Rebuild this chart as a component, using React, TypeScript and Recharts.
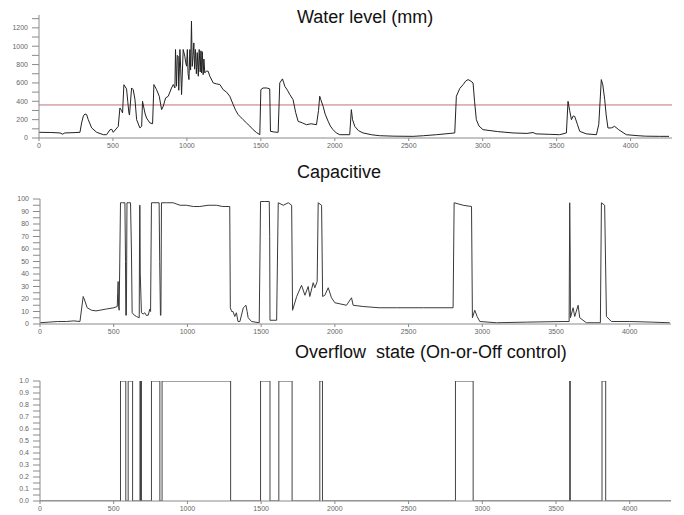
import { LineChart, Line, XAxis, YAxis, ReferenceLine } from 'recharts';

// time ticks shared by the three panels
const xTicks = [0, 500, 1000, 1500, 2000, 2500, 3000, 3500, 4000];
const levelTicks = [0, 100, 200, 300, 400, 500, 600, 700, 800, 900, 1000, 1100, 1200, 1300];
const capTicks = [0, 5, 10, 15, 20, 25, 30, 35, 40, 45, 50, 55, 60, 65, 70, 75, 80, 85, 90, 95, 100];
const stateTicks = [0, 0.05, 0.1, 0.15, 0.2, 0.25, 0.3, 0.35, 0.4, 0.45, 0.5, 0.55, 0.6, 0.65, 0.7, 0.75, 0.8, 0.85, 0.9, 0.95, 1];

const threshold = 360;

// [time, water level mm]
const waterLevel: [number, number][] = [
    [0, 62], [80, 60], [142, 55], [160, 42], [175, 55], [230, 58], [277, 62], [288, 164], [300, 240], [311, 262],
    [322, 255], [333, 200], [356, 110], [390, 62], [435, 36], [457, 36], [480, 90], [492, 95], [502, 62], [536, 127],
    [547, 327], [558, 300], [565, 273], [574, 580], [592, 535], [600, 400], [608, 273], [612, 250], [626, 545], [637, 527],
    [649, 418], [660, 200], [682, 110], [694, 127], [700, 400], [716, 273], [727, 218], [750, 164], [768, 156], [777, 582],
    [795, 527], [813, 455], [829, 309], [840, 345], [856, 436], [874, 455], [896, 545], [908, 582], [919, 545], [923, 964],
    [930, 564], [935, 900], [941, 891], [945, 520], [953, 964], [958, 760], [964, 473], [975, 964], [986, 891], [992, 820],
    [998, 782], [1003, 964], [1008, 700], [1014, 636], [1020, 964], [1025, 740], [1031, 1273], [1036, 780], [1042, 900],
    [1047, 1036], [1052, 750], [1058, 964], [1064, 700], [1070, 930], [1077, 673], [1083, 964], [1090, 720], [1095, 950],
    [1099, 709], [1104, 940], [1110, 690], [1115, 860], [1121, 709], [1132, 730], [1144, 727], [1155, 673], [1178, 600],
    [1200, 590], [1223, 582], [1245, 527], [1268, 500], [1290, 455], [1313, 364], [1330, 300], [1347, 255], [1358, 236],
    [1380, 200], [1403, 164], [1425, 130], [1448, 91], [1470, 60], [1493, 36], [1500, 527], [1515, 545], [1540, 545],
    [1560, 535], [1565, 73], [1590, 65], [1617, 62], [1628, 600], [1646, 644], [1655, 600], [1662, 564], [1680, 520],
    [1696, 473], [1718, 418], [1735, 280], [1752, 182], [1780, 165], [1808, 145], [1840, 155], [1876, 145], [1890, 300],
    [1898, 455], [1905, 420], [1921, 345], [1935, 260], [1955, 182], [1970, 130], [1988, 91], [2010, 55], [2034, 36],
    [2101, 36], [2112, 309], [2120, 200], [2135, 127], [2160, 80], [2191, 55], [2250, 35], [2304, 25], [2400, 20],
    [2530, 18], [2600, 25], [2688, 36], [2780, 50], [2811, 55], [2822, 455], [2845, 540], [2868, 582], [2885, 620],
    [2901, 636], [2915, 625], [2935, 600], [2945, 400], [2957, 200], [2975, 130], [3002, 91], [3100, 70], [3205, 55],
    [3300, 50], [3340, 60], [3360, 45], [3450, 40], [3520, 36], [3566, 55], [3577, 400], [3588, 300], [3600, 200],
    [3612, 240], [3622, 236], [3640, 150], [3656, 73], [3700, 45], [3769, 36], [3785, 150], [3802, 636], [3812, 580],
    [3825, 418], [3835, 250], [3847, 109], [3870, 110], [3892, 127], [3920, 90], [3971, 36], [4050, 25], [4100, 20],
    [4196, 18], [4260, 18],
];

// [time, capacitive reading]
const capacitive: [number, number][] = [
    [0, 1], [60, 1.5], [120, 2], [180, 2], [230, 2.5], [271, 2], [282, 12], [293, 22], [300, 20], [320, 13],
    [350, 11], [380, 10.5], [406, 11], [450, 12], [501, 13], [524, 14], [527, 25], [530, 34], [533, 14], [537, 11],
    [546, 97], [560, 97], [576, 97], [580, 50], [582, 7], [586, 7], [590, 97], [598, 97], [614, 97], [620, 60],
    [625, 9], [640, 7], [655, 6], [673, 5], [676, 95], [678, 95], [680, 40], [688, 9], [700, 8], [711, 9],
    [720, 7], [734, 7], [745, 12], [750, 10], [756, 97], [780, 97], [808, 97], [812, 50], [817, 7], [820, 7],
    [824, 97], [860, 97], [903, 97], [950, 95], [993, 95], [1040, 94], [1084, 94], [1140, 95], [1196, 95], [1240, 94],
    [1287, 94], [1291, 13], [1300, 10], [1309, 10], [1321, 6], [1332, 9], [1343, 2], [1356, 2], [1379, 13], [1397, 15],
    [1405, 10], [1412, 5], [1435, 2], [1487, 1], [1496, 98], [1525, 98], [1555, 98], [1558, 70], [1560, 3], [1605, 3],
    [1616, 97], [1650, 95], [1684, 97], [1707, 95], [1713, 11], [1741, 22], [1774, 31], [1797, 23], [1819, 30], [1830, 22],
    [1853, 33], [1864, 29], [1880, 34], [1887, 97], [1910, 95], [1917, 22], [1932, 23], [1955, 29], [1977, 21], [2000, 17],
    [2079, 15], [2113, 21], [2124, 15], [2192, 14], [2300, 13], [2418, 13], [2600, 13], [2802, 13], [2809, 97], [2870, 95],
    [2927, 94], [2933, 5], [2949, 11], [2965, 6], [2983, 2], [3096, 1], [3300, 1.5], [3548, 2], [3589, 2], [3593, 97],
    [3596, 60], [3598, 5], [3616, 13], [3627, 6], [3650, 15], [3661, 5], [3706, 1], [3801, 1], [3808, 97], [3830, 95],
    [3842, 6], [3876, 2], [4000, 2], [4150, 1.5], [4272, 1],
];

// [start, end] of each overflow "on" period
const overflowOn: [number, number][] = [
    [546, 582], [598, 628], [678, 682], [684, 688], [756, 813], [828, 1293], [1496, 1560],
    [1620, 1710], [1898, 1916], [2818, 2938], [3593, 3597], [3812, 3837],
];

const xMax = 4280;

const levelData = waterLevel.map(([t, v]) => ({ t, v }));
const capData = capacitive.map(([t, v]) => ({ t, v }));
const stateData = [{ t: 0, v: 0 }];
overflowOn.forEach(([s, e]) => {
    stateData.push({ t: s, v: 0 }, { t: s, v: 1 }, { t: e, v: 1 }, { t: e, v: 0 });
});
stateData.push({ t: xMax, v: 0 });

const axisColor = '#8a8a8a';
const tickStyle = { fill: '#666', fontSize: 7, fontFamily: 'Liberation Sans, Arial, sans-serif' };
const titleStyle = { fontFamily: 'Liberation Sans, Arial, sans-serif', fontSize: 18, fill: '#111' };

function Panel({ top, height, margin, yWidth, domain, ticks, fmt, data, stroke, children }: any) {
    return (
        <div style={{ position: 'absolute', left: 0, top }}>
            <LineChart width={684} height={height} margin={margin}>
                <XAxis
                    dataKey="t"
                    type="number"
                    domain={[0, xMax]}
                    ticks={xTicks}
                    allowDataOverflow
                    height={14}
                    stroke={axisColor}
                    tickSize={3}
                    tickMargin={2}
                    tick={tickStyle}
                />
                <YAxis
                    type="number"
                    domain={domain}
                    ticks={ticks}
                    allowDataOverflow
                    width={yWidth}
                    stroke={axisColor}
                    tickSize={7}
                    tickMargin={4}
                    interval={0}
                    tick={tickStyle}
                    tickFormatter={fmt}
                />
                {children}
                <Line
                    data={data}
                    dataKey="v"
                    type="linear"
                    stroke={stroke}
                    strokeWidth={1}
                    dot={false}
                    isAnimationActive={false}
                />
            </LineChart>
        </div>
    );
}

export default function App() {
    return (
        <div style={{ position: 'fixed', left: 0, top: 0, width: 684, height: 515, background: '#fff', overflow: 'hidden' }}>
            <Panel
                top={0}
                height={160}
                margin={{ top: 15, right: 12, bottom: 8, left: 0 }}
                yWidth={39}
                domain={[0, 1340]}
                ticks={levelTicks}
                fmt={(v: number) => (v % 200 === 0 ? String(v) : '')}
                data={levelData}
                stroke="#222"
            >
                <ReferenceLine y={threshold} stroke="#c0707a" strokeWidth={1} />
            </Panel>
            <Panel
                top={180}
                height={165}
                margin={{ top: 19, right: 13, bottom: 7, left: 0 }}
                yWidth={40}
                domain={[0, 100]}
                ticks={capTicks}
                fmt={(v: number) => (v % 10 === 0 ? String(v) : '')}
                data={capData}
                stroke="#3a3a3a"
            />
            <Panel
                top={360}
                height={155}
                margin={{ top: 21, right: 13, bottom: 0, left: 0 }}
                yWidth={40}
                domain={[0, 1]}
                ticks={stateTicks}
                fmt={(v: number) => (Math.round(v * 100) % 10 === 0 ? v.toFixed(1) : '')}
                data={stateData}
                stroke="#444"
            />
            <svg width={684} height={515} style={{ position: 'absolute', left: 0, top: 0, pointerEvents: 'none' }}>
                <text x={297} y={23} style={titleStyle}>Water level (mm)</text>
                <text x={297} y={178} style={titleStyle}>Capacitive</text>
                <text x={295} y={358} style={titleStyle} xmlSpace="preserve">Overflow  state (On-or-Off control)</text>
            </svg>
        </div>
    );
}
